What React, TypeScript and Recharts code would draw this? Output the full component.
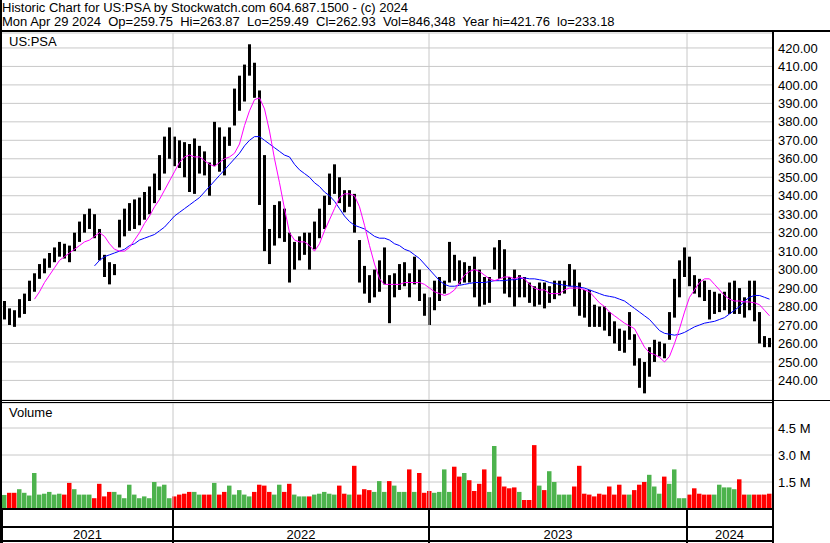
import React from 'react'
import { ComposedChart, Bar, Line, XAxis, YAxis, CartesianGrid, ReferenceLine, Cell } from 'recharts'

// weekly periods, Apr 2021 -> Apr 29 2024
const HIGH = [
  283, 279, 278, 284, 287, 294, 298, 303, 306, 309, 312, 315, 314, 313, 320, 326, 330, 333, 330, 322,
  308, 304, 303, 327, 333, 336, 338, 339, 342, 345, 352, 362, 372, 377, 372, 370, 369, 368, 371, 367,
  364, 358, 380, 377, 372, 377, 398, 405, 411, 422, 412, 397, 362, 322, 335, 337, 333, 320, 315, 318,
  320, 320, 326, 333, 340, 352, 357, 350, 343, 343, 341, 316, 302, 297, 300, 305, 312, 297, 298, 303,
  304, 298, 307, 300, 287, 285, 294, 296, 294, 315, 308, 305, 304, 302, 307, 300, 296, 296, 312, 316,
  311, 296, 300, 297, 296, 293, 291, 293, 293, 291, 294, 294, 294, 303, 300, 293, 289, 289, 281, 280,
  280, 277, 272, 268, 267, 277, 265, 252, 250, 258, 262, 261, 260, 277, 295, 305, 312, 307, 297, 295,
  294, 289, 288, 287, 288, 293, 294, 290, 285, 294, 294, 277, 264, 263,
]
const LOW = [
  273, 270, 269, 274, 276, 283, 288, 295, 298, 301, 304, 307, 306, 304, 310, 315, 320, 322, 317, 305,
  296, 292, 297, 312, 318, 321, 322, 324, 327, 330, 336, 343, 352, 360, 356, 355, 350, 342, 341, 352,
  351, 340, 356, 353, 351, 367, 378, 386, 391, 405, 393, 335, 310, 303, 313, 317, 315, 293, 300, 305,
  308, 300, 311, 317, 322, 335, 341, 336, 331, 334, 320, 293, 287, 282, 285, 288, 292, 271, 285, 289,
  291, 285, 292, 283, 275, 270, 278, 283, 287, 293, 294, 292, 293, 293, 285, 280, 281, 282, 300, 295,
  287, 285, 280, 285, 285, 282, 280, 281, 279, 282, 284, 286, 287, 291, 280, 275, 274, 269, 269, 269,
  267, 264, 260, 256, 255, 262, 248, 236, 233, 242, 250, 253, 252, 262, 274, 285, 296, 291, 287, 285,
  283, 273, 276, 277, 278, 276, 276, 276, 274, 278, 272, 260, 258, 258,
]

// magenta (short) moving average, starts at period 6
const MA_FAST_START = 6
const MA_FAST = [
  284, 288, 293, 297, 301, 305, 307, 309, 311, 313,
  315, 316, 318, 320, 318, 314, 311, 310, 310, 312,
  316, 320, 325, 329, 334, 338, 343, 348, 353, 358,
  361, 362, 361, 361, 359, 357, 356, 358, 360, 361,
  363, 368, 378, 386, 392, 393, 387, 375, 360, 347,
  333, 320, 316, 315, 315, 313, 310, 314, 321, 327,
  333, 339, 341, 341, 340, 334, 324, 313, 303, 295,
  292, 292, 292, 292, 293, 293, 293, 293, 292, 290,
  288, 287, 286, 287, 289, 293, 297, 299, 300, 299,
  297, 295, 294, 295, 296, 296, 295, 296, 295, 292,
  290, 289, 289, 287, 287, 287, 289, 290, 290, 290,
  289, 288, 285, 282, 280, 277, 275, 273, 271, 269.5,
  268, 263, 258, 255, 254, 252.5, 250, 253, 260, 268,
  277, 285, 289, 293, 295, 295, 292, 289, 286, 284,
  283, 283, 282.5, 282.5, 282, 281, 278, 275,
]

// blue (long) moving average, starts at period 18
const MA_SLOW_START = 18
const MA_SLOW = [
  302, 305, 307, 308, 309, 310, 311, 313, 314, 316,
  317, 318, 319, 321, 323, 326, 329, 331, 333, 335,
  337, 339, 342, 345, 348, 351, 354, 357, 360, 363,
  367, 370, 372, 372, 370, 368, 366, 364, 362, 361,
  357, 354, 352, 350, 347, 345, 342, 340, 337, 333,
  329, 326, 324, 323, 322, 320, 318, 317, 317, 316,
  314, 313, 311, 310, 308, 306, 303, 300, 297, 294,
  292, 291, 291, 291.5, 292, 292.5, 293, 293, 293, 293.5,
  294, 294, 294, 294.5, 294.5, 295, 295.5, 295, 295, 294.5,
  294, 293, 292.5, 292, 291.5, 291, 291, 290.5, 290, 289,
  288, 287, 286, 285.5, 285, 284, 283, 281, 279, 277,
  275, 273, 270, 267, 265.5, 265, 264.5, 265, 266, 267.5,
  269, 270, 271, 271.5, 272, 273, 274, 276, 278, 280,
  283, 285, 286, 286, 285, 284,
]

// volume in millions of shares
const VOLUME = [
  0.78, 0.9, 0.9, 1.1, 0.9, 0.75, 2.0, 0.8, 0.85, 0.95, 0.8, 0.85, 0.8, 1.45, 1.1, 0.8, 0.8, 0.8, 0.6, 1.4,
  0.7, 0.95, 0.95, 0.8, 0.6, 1.35, 0.8, 0.6, 0.7, 0.6, 1.5, 1.25, 1.35, 0.6, 0.7, 0.8, 0.85, 0.95, 0.95, 0.8,
  0.8, 0.8, 1.45, 0.8, 0.95, 1.3, 0.8, 1.05, 0.8, 0.7, 0.95, 1.35, 1.3, 0.95, 0.8, 1.35, 0.95, 1.4, 0.8, 0.7,
  0.7, 0.7, 0.8, 0.85, 0.95, 0.85, 0.8, 1.3, 0.85, 0.8, 2.4, 0.8, 1.1, 1.05, 0.95, 1.55, 0.95, 1.55, 1.3, 0.95,
  0.95, 2.2, 0.95, 2.0, 0.9, 1.0, 0.9, 0.95, 2.2, 0.95, 2.35, 1.8, 2.0, 1.6, 1.0, 1.4, 2.2, 0.95, 3.5, 1.8,
  1.25, 1.15, 1.2, 0.95, 0.5, 0.5, 3.55, 1.3, 1.05, 2.1, 1.5, 0.8, 0.8, 0.8, 1.25, 2.4, 0.85, 0.8, 0.7, 0.85,
  0.8, 1.25, 0.8, 1.35, 0.8, 0.8, 1.05, 1.35, 1.5, 1.9, 1.25, 0.85, 1.8, 1.4, 2.2, 0.6, 0.6, 0.8, 1.15, 0.85,
  0.8, 0.8, 0.8, 1.35, 1.2, 1.2, 1.1, 1.65, 0.8, 0.8, 0.8, 0.8, 0.8, 0.85,
]

const YEARS = ['2021', '2022', '2023', '2024']
const YEAR_START = [0, 34.2, 85.4, 137]
const PRICE_TICKS = [240, 250, 260, 270, 280, 290, 300, 310, 320, 330, 340, 350, 360, 370, 380, 390, 400, 410, 420]
const VOLUME_TICKS = [1.5, 3.0, 4.5]

const N = HIGH.length
const FONT = '"Liberation Sans", Arial, sans-serif'
const GRID = '#c8c8c8'
const UP = '#4db34d'
const DOWN = '#ff0000'

const rows = HIGH.map((h, i) => ({
  x: i + 0.5,
  range: [LOW[i], h],
  maFast: i >= MA_FAST_START ? MA_FAST[i - MA_FAST_START] : null,
  maSlow: i >= MA_SLOW_START ? MA_SLOW[i - MA_SLOW_START] : null,
  vol: VOLUME[i],
}))

const volColor = (i: number) => {
  if (i === 0) return UP
  const mid = (HIGH[i] + LOW[i]) / 2
  const prev = (HIGH[i - 1] + LOW[i - 1]) / 2
  return mid >= prev ? UP : DOWN
}

const yearMid = YEAR_START.map((s, i) => (s + (i + 1 < YEAR_START.length ? YEAR_START[i + 1] : N)) / 2)
const axisTicks = [...YEAR_START, ...yearMid]

function YearTick(props: any) {
  const { x, y, payload } = props
  const si = YEAR_START.indexOf(payload.value)
  if (si >= 0) {
    return <line x1={x} x2={x} y1={y} y2={y + 34} stroke="#000" strokeWidth={2} />
  }
  const mi = yearMid.indexOf(payload.value)
  return (
    <text x={x} y={y + 30} textAnchor="middle" fontSize={13} fontFamily={FONT} fill="#000">
      {YEARS[mi]}
    </text>
  )
}

const hline = (top: number, left: number, width: number, h = 2) => (
  <div style={{ position: 'absolute', top, left, width, height: h, background: '#000' }} />
)

export default function App() {
  return (
    <div style={{ position: 'absolute', left: 0, top: 0, width: 830, height: 543, background: '#fff', overflow: 'hidden', fontFamily: FONT }}>
      <div style={{ position: 'absolute', left: 2, top: 1, fontSize: 13, lineHeight: '14px', whiteSpace: 'pre', color: '#000' }}>
        {'Historic Chart for US:PSA by Stockwatch.com 604.687.1500 - (c) 2024\n'}
        {'Mon Apr 29 2024  Op=259.75  Hi=263.87  Lo=259.49  Cl=262.93  Vol=846,348  Year hi=421.76  lo=233.18'}
      </div>

      <div style={{ position: 'absolute', left: 0, top: 0 }}>
        <ComposedChart width={830} height={400} data={rows} margin={{ top: 33, right: 0, bottom: 0, left: 2 }}>
          <CartesianGrid vertical={false} stroke={GRID} />
          <XAxis type="number" dataKey="x" domain={[0, N]} hide />
          <YAxis
            orientation="right"
            domain={[229.4, 428.1]}
            allowDataOverflow
            ticks={PRICE_TICKS}
            interval={0}
            width={58}
            tickSize={0}
            tickMargin={6}
            axisLine={false}
            tick={{ fill: '#000', fontSize: 13, fontFamily: FONT }}
            tickFormatter={(v: number) => v.toFixed(2)}
          />
          {YEAR_START.slice(1).map((s) => (
            <ReferenceLine key={s} x={s} stroke={GRID} />
          ))}
          <Bar dataKey="range" fill="#000" barSize={3} isAnimationActive={false} />
          <Line dataKey="maSlow" type="linear" stroke="#0000ff" strokeWidth={1} dot={false} isAnimationActive={false} />
          <Line dataKey="maFast" type="linear" stroke="#ff00ff" strokeWidth={1} dot={false} isAnimationActive={false} />
        </ComposedChart>
      </div>

      <div style={{ position: 'absolute', left: 0, top: 400 }}>
        <ComposedChart width={830} height={143} data={rows} margin={{ top: 3, right: 0, bottom: 0, left: 2 }}>
          <CartesianGrid vertical={false} stroke={GRID} />
          <XAxis
            type="number"
            dataKey="x"
            domain={[0, N]}
            ticks={axisTicks}
            interval={0}
            height={34}
            tickSize={0}
            tickMargin={0}
            tick={<YearTick />}
            axisLine={{ stroke: '#000', strokeWidth: 2 }}
          />
          <YAxis
            orientation="right"
            domain={[0, 5.89]}
            allowDataOverflow
            ticks={VOLUME_TICKS}
            interval={0}
            width={58}
            tickSize={0}
            tickMargin={6}
            axisLine={false}
            tick={{ fill: '#000', fontSize: 13, fontFamily: FONT }}
            tickFormatter={(v: number) => `${v.toFixed(1)} M`}
          />
          {YEAR_START.slice(1).map((s) => (
            <ReferenceLine key={s} x={s} stroke={GRID} />
          ))}
          <Bar dataKey="vol" barSize={5} isAnimationActive={false}>
            {rows.map((r, i) => (
              <Cell key={i} fill={volColor(i)} />
            ))}
          </Bar>
        </ComposedChart>
      </div>

      <div style={{ position: 'absolute', left: 9, top: 34, fontSize: 13, color: '#000' }}>US:PSA</div>
      <div style={{ position: 'absolute', left: 9, top: 405, fontSize: 13, color: '#000' }}>Volume</div>

      {hline(30, 0, 830)}
      {hline(400, 0, 830, 1)}
      {hline(402, 0, 774, 1)}
      {hline(526, 0, 774)}
      {hline(540, 0, 774)}
      <div style={{ position: 'absolute', left: 0, top: 0, width: 2, height: 543, background: '#000' }} />
      <div style={{ position: 'absolute', left: 772, top: 30, width: 2, height: 513, background: '#000' }} />
    </div>
  )
}
